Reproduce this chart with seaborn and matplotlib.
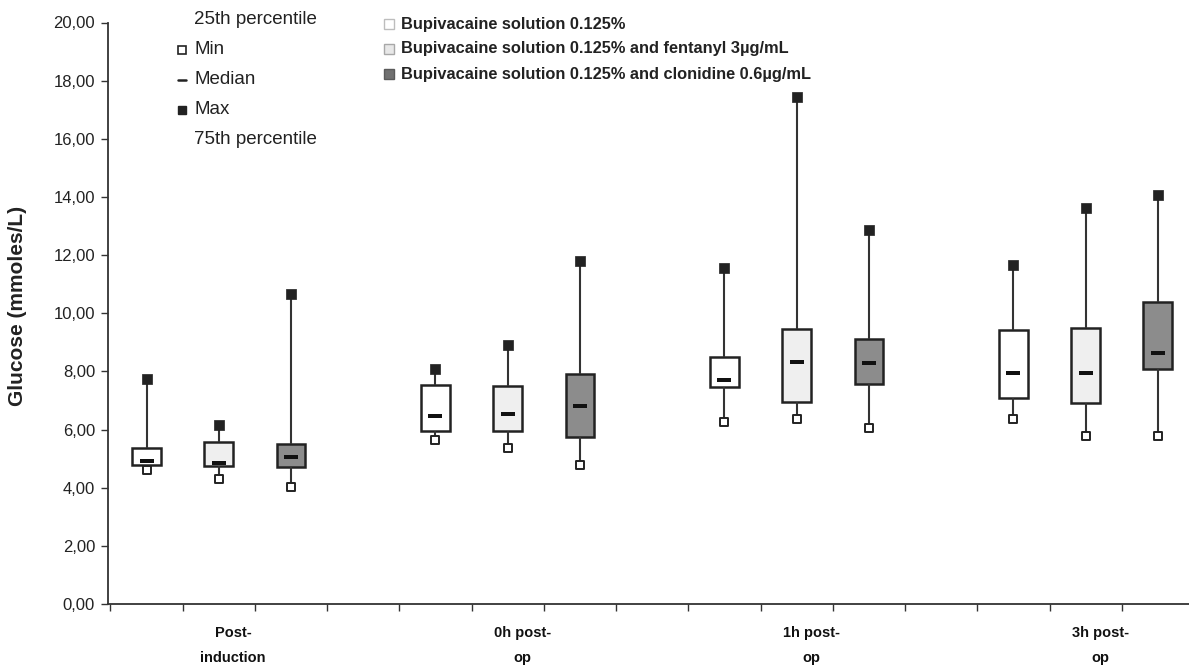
import numpy as np
import pandas as pd
import seaborn as sns
import matplotlib
matplotlib.use("Agg")
import matplotlib.pyplot as plt
from matplotlib.lines import Line2D
from matplotlib.ticker import FuncFormatter, FixedLocator

# ---------------- data ----------------
timepoints = ["Post-\ninduction", "0h post-\nop", "1h post-\nop", "3h post-\nop"]
treatments = ["Bupivacaine solution 0.125%",
              "Bupivacaine solution 0.125% and fentanyl 3µg/mL",
              "Bupivacaine solution 0.125% and clonidine 0.6µg/mL"]

# per treatment, one value per timepoint
bupi_min = [4.60, 5.65, 6.27, 6.35]
bupi_q1  = [4.79, 5.95, 7.45, 7.10]
bupi_med = [4.93, 6.47, 7.72, 7.96]
bupi_q3  = [5.38, 7.54, 8.50, 9.44]
bupi_max = [7.73, 8.07, 11.54, 11.65]

fent_min = [4.30, 5.35, 6.35, 5.77]
fent_q1  = [4.74, 5.95, 6.94, 6.93]
fent_med = [4.86, 6.55, 8.33, 7.93]
fent_q3  = [5.58, 7.50, 9.47, 9.50]
fent_max = [6.15, 8.92, 17.43, 13.63]

clon_min = [4.01, 4.78, 6.06, 5.77]
clon_q1  = [4.70, 5.75, 7.58, 8.07]
clon_med = [5.06, 6.80, 8.29, 8.64]
clon_q3  = [5.52, 7.90, 9.13, 10.38]
clon_max = [10.65, 11.80, 12.85, 14.05]

yticks = [0, 2, 4, 6, 8, 10, 12, 14, 16, 18, 20]

stats = {
    treatments[0]: (bupi_min, bupi_q1, bupi_med, bupi_q3, bupi_max),
    treatments[1]: (fent_min, fent_q1, fent_med, fent_q3, fent_max),
    treatments[2]: (clon_min, clon_q1, clon_med, clon_q3, clon_max),
}

rows = []
summ = []
for ti, tr in enumerate(treatments):
    mn, q1, md, q3, mx = stats[tr]
    for gi in range(len(timepoints)):
        pos = 4 * gi + ti
        for v in (mn[gi], q1[gi], md[gi], q3[gi], mx[gi]):
            rows.append({"pos": pos, "value": v, "treatment": tr})
        summ.append({"pos": pos, "min": mn[gi], "med": md[gi], "max": mx[gi], "treatment": tr})
df = pd.DataFrame(rows)
sm = pd.DataFrame(summ)

# ---------------- style ----------------
sns.set_theme(style="white")
plt.rcParams["font.family"] = ["Liberation Sans", "DejaVu Sans"]

fills = {treatments[0]: "#ffffff", treatments[1]: "#efefef", treatments[2]: "#8c8c8c"}
edge = "#222222"

W, H = 1189, 672
fig = plt.figure(figsize=(W / 100, H / 100), dpi=100)
y0_px, y20_px = 604, 22.5
ax = fig.add_axes([107.5 / W, (H - y0_px) / H, (W - 107.5) / W, (y0_px - y20_px) / H])

sns.boxplot(data=df, x="pos", y="value", hue="treatment", hue_order=treatments,
            palette=fills, native_scale=True, dodge=False, whis=(0, 100),
            width=0.4, showcaps=False, showfliers=False, legend=False,
            linecolor=edge, linewidth=1.8,
            medianprops={"visible": False},
            whiskerprops={"color": "#333333", "linewidth": 1.5},
            ax=ax)

dash = [(-1, -0.28), (1, -0.28), (1, 0.28), (-1, 0.28), (-1, -0.28)]
sns.scatterplot(data=sm, x="pos", y="med", marker=dash, s=100, color="#111111",
                edgecolor="#111111", linewidth=0, ax=ax, zorder=5, legend=False)
sns.scatterplot(data=sm, x="pos", y="max", marker="s", s=48, color="#222222",
                edgecolor="#222222", linewidth=0.5, ax=ax, zorder=5, legend=False)
sns.scatterplot(data=sm, x="pos", y="min", marker="s", s=34, color="white",
                edgecolor="#222222", linewidth=1.4, ax=ax, zorder=5, legend=False)

ax.set_xlim(-0.54, 14.43)
ax.set_ylim(0, 20)
ax.set_xlabel("")
ax.set_ylabel("")

for s in ["top", "right"]:
    ax.spines[s].set_visible(False)
for s in ["left", "bottom"]:
    ax.spines[s].set_color("#333333")
    ax.spines[s].set_linewidth(1.3)

ax.set_yticks(yticks)
ax.yaxis.set_major_formatter(FuncFormatter(lambda v, p: f"{v:.2f}".replace(".", ",")))
ax.tick_params(axis="y", direction="out", length=5, width=1, color="#333333",
               labelsize=12, labelcolor="#222222", pad=4, left=True)

ax.set_xticks([4 * g + 1.2 for g in range(len(timepoints))])
ax.set_xticklabels(timepoints, fontsize=10.5, fontweight="bold", linespacing=1.95,
                   color="#111111")
ax.tick_params(axis="x", which="major", length=0, pad=16)
ax.xaxis.set_minor_locator(FixedLocator([k + 0.5 for k in range(-1, 14)]))
ax.tick_params(axis="x", which="minor", direction="out", length=5, width=1,
               color="#333333", bottom=True)

fig.text(18 / W, 1 - 306 / H, "Glucose (mmoles/L)", rotation=90, ha="center",
         va="center", fontsize=15, fontweight="bold", color="#222222")

# left legend (box-plot key)
key_y = [20, 50, 80, 110, 140]
key_txt = ["25th percentile", "Min", "Median", "Max", "75th percentile"]
for yy, t in zip(key_y, key_txt):
    fig.text(194 / W, 1 - yy / H, t, ha="left", va="center", fontsize=13.5,
             color="#222222")
fig.add_artist(Line2D([182 / W], [1 - 50 / H], marker="s", markersize=5.5,
                      markerfacecolor="white", markeredgecolor="#222222",
                      markeredgewidth=1.2, transform=fig.transFigure))
fig.add_artist(Line2D([178 / W, 186 / W], [1 - 80 / H] * 2, color="#222222",
                      linewidth=1.8, transform=fig.transFigure))
fig.add_artist(Line2D([182 / W], [1 - 110 / H], marker="s", markersize=5.5,
                      markerfacecolor="#222222", markeredgecolor="#222222",
                      transform=fig.transFigure))

# right legend (treatments)
leg_y = [24, 49, 74]
leg_edges = ["#bdbdbd", "#a8a8a8", "#5a5a5a"]
leg_fills = ["#ffffff", "#e8e8e8", "#707070"]
for yy, t, fc, ec in zip(leg_y, treatments, leg_fills, leg_edges):
    fig.add_artist(Line2D([389 / W], [1 - yy / H], marker="s", markersize=7,
                          markerfacecolor=fc, markeredgecolor=ec,
                          markeredgewidth=1.0, transform=fig.transFigure))
    fig.text(401 / W, 1 - yy / H, t, ha="left", va="center", fontsize=11.8,
             fontweight="bold", color="#222222")

fig.savefig("out.png", dpi=100, facecolor="white")
